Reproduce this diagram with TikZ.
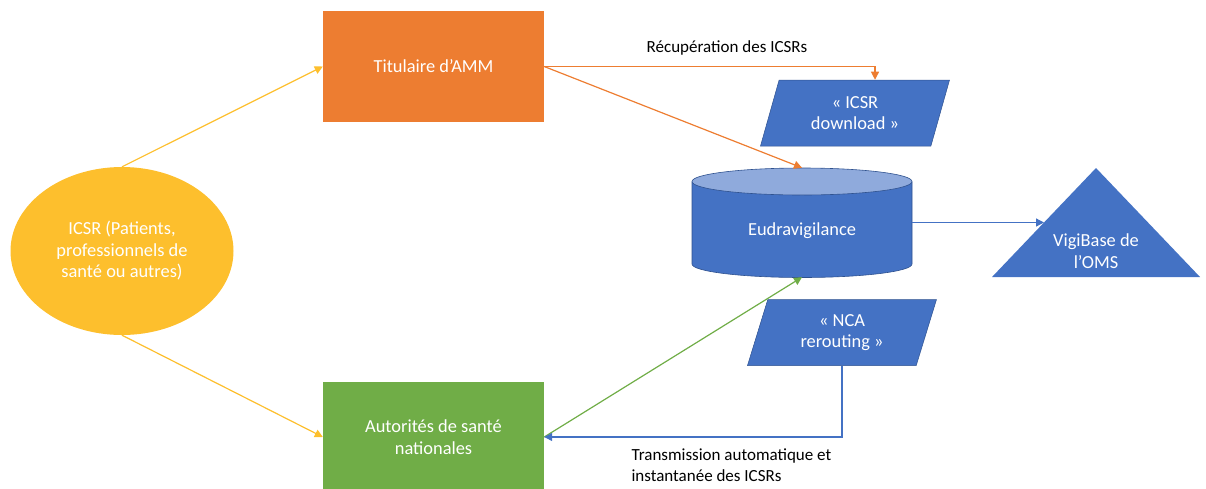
\documentclass[tikz,border=0pt]{standalone}
\usepackage{fontspec}
\setmainfont{Carlito}
\usetikzlibrary{shapes.geometric,arrows.meta}
\definecolor{amber}{HTML}{FDBF2D}
\definecolor{carrot}{HTML}{ED7D31}
\definecolor{leaf}{HTML}{70AD47}
\definecolor{steel}{HTML}{4472C4}
\definecolor{steeldark}{HTML}{2F528F}
\definecolor{steellight}{HTML}{8FAADC}

\begin{document}
\begin{tikzpicture}[x=1pt,y=-1pt,
        panel/.style={rectangle,minimum width=221pt,minimum height=111pt,inner sep=0pt,text=white,align=center,font=\fontsize{18.4}{21.5}\selectfont},
        slanted/.style={trapezium,trapezium left angle=61,trapezium right angle=119,trapezium stretches body,minimum width=189pt,minimum height=66pt,inner sep=0pt,fill=steel,draw=steeldark,line width=0.5pt,text=white,align=center,font=\fontsize{18.4}{21.5}\selectfont},
        link/.style={-{Triangle[length=8pt,width=8pt]},line width=1.2pt},
        note/.style={font=\fontsize{17}{21}\selectfont,align=left}]
    \useasboundingbox (0,0) rectangle (1206,488);
    \path[fill=steel,draw=steeldark,line width=0.6pt] (692,181.5) -- (692,264) arc[start angle=180,end angle=0,x radius=110,y radius=13.5] -- (912,181.5);
    \filldraw[fill=steellight,draw=steeldark,line width=0.6pt] (802,181.5) ellipse[x radius=110,y radius=13.5];
    \fill[steel] (992,277) -- (1096,168) -- (1200,277) -- cycle;
    \node[ellipse,minimum width=223pt,minimum height=168pt,inner sep=0pt,fill=amber,text=white,align=center,font=\fontsize{18.4}{21.5}\selectfont] (icsr) at (122,251) {ICSR (Patients,\\professionnels de\\santé ou autres)};
    \node[panel,fill=carrot] (titulaire) at (433.5,66.5) {Titulaire d’AMM};
    \node[panel,fill=leaf] (autorites) at (433.5,437) {Autorités de santé\\nationales};
    \node[slanted] (download) at (855,113) {« ICSR\\download »};
    \node[slanted] (rerouting) at (842,332.5) {« NCA\\rerouting »};
    \node[minimum width=220pt,minimum height=109pt,inner sep=0pt,text=white,font=\fontsize{18.4}{21.5}\selectfont] (eudra) at (802,222.5) {\raisebox{-13pt}[0pt][0pt]{Eudravigilance}};
    \node[text=white,align=center,font=\fontsize{18.4}{21.5}\selectfont] (vigi) at (1096,251) {VigiBase de\\l’OMS};
    \coordinate (vigiedge) at (1044,222.5);
    \node[note] (recup) at (727,48) {Récupération des ICSRs};
    \node[note,anchor=west] (transmission) at (628,465.5) {Transmission automatique et\\instantanée des ICSRs};
    \draw[link,amber] (icsr.north) -- (titulaire.west);
    \draw[link,amber] (icsr.south) -- (autorites.west);
    \draw[link,carrot] (titulaire.east) -| ([xshift=20pt]download.north);
    \draw[link,carrot] (titulaire.east) -- (eudra.north);
    \draw[link,leaf] (autorites.east) -- (eudra.south);
    \draw[link,steel] (rerouting.south) |- (autorites.east);
    \draw[link,steel] (eudra.east) -- (vigiedge);
\end{tikzpicture}
\end{document}
